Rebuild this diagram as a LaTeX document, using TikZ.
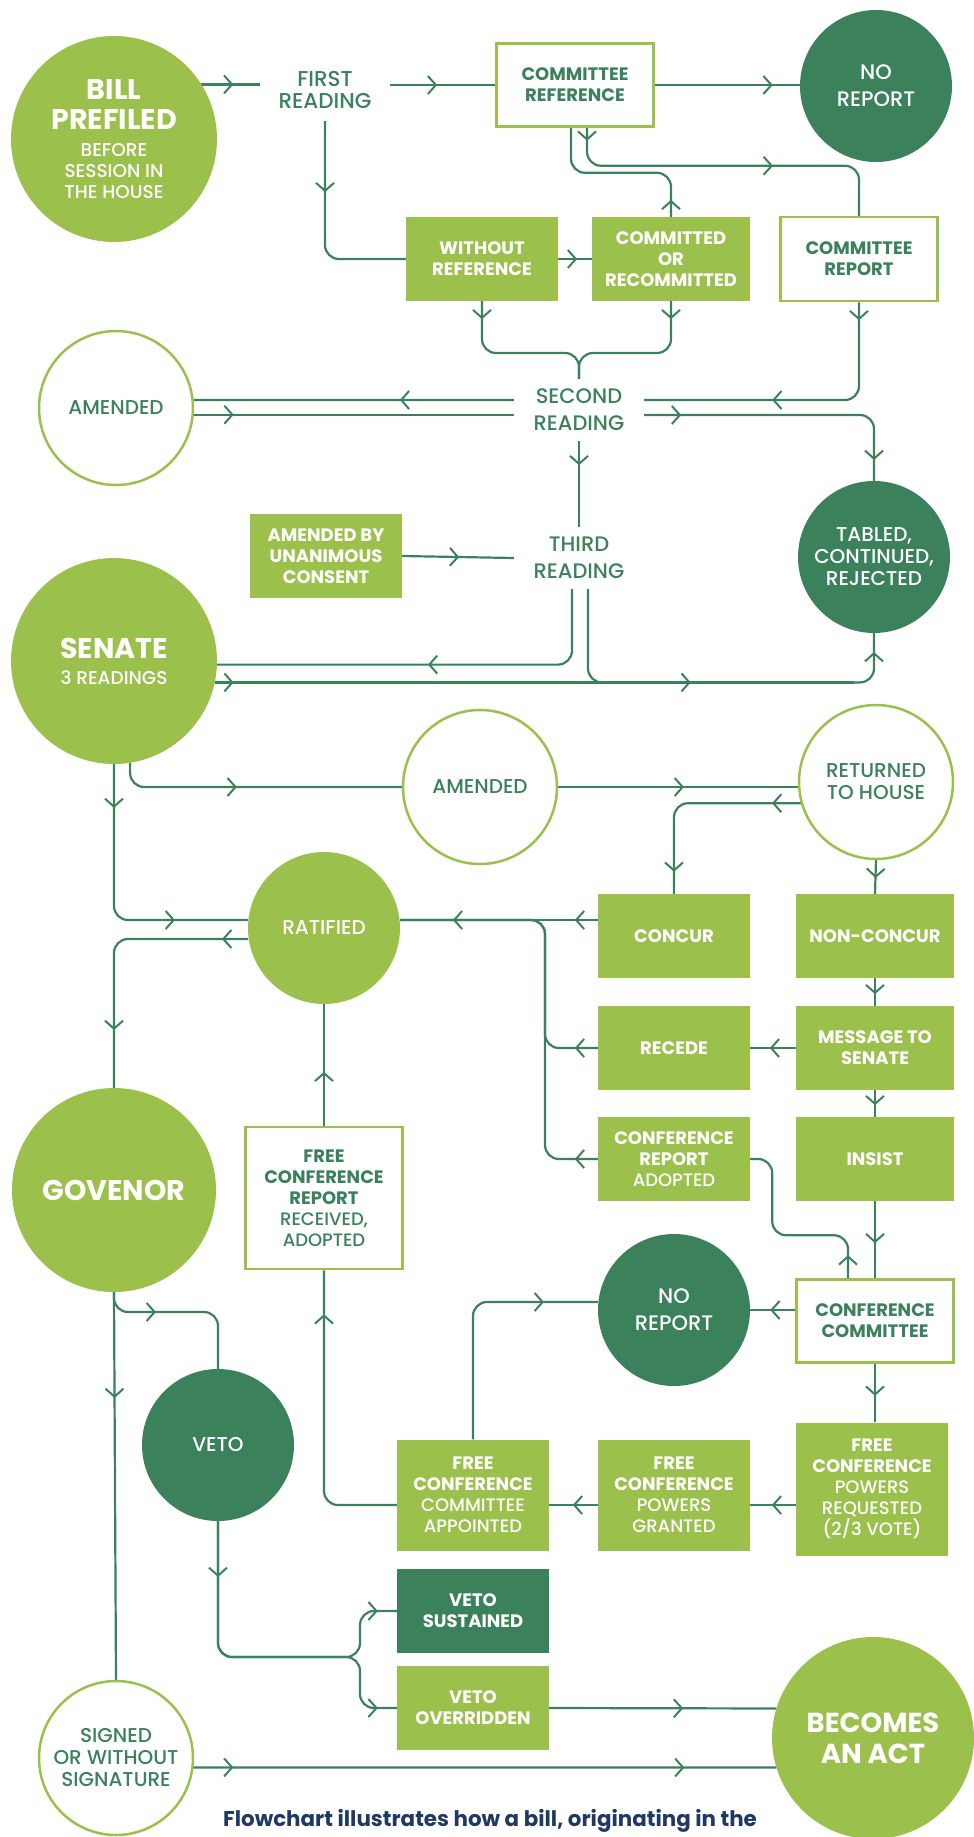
\documentclass[tikz,border=0pt]{standalone}
\usepackage{fontspec}
\setmainfont{Poppins}[UprightFont={* Medium},BoldFont={* Bold}]
\usetikzlibrary{arrows.meta,decorations.markings,backgrounds}
\definecolor{lgreen}{RGB}{155,193,76}
\definecolor{dgreen}{RGB}{59,129,91}
\definecolor{navy}{RGB}{31,56,100}
\tikzset{
  conn/.style={draw=dgreen,line width=2.2pt,rounded corners=14pt},
  midarr/.style={postaction={decorate,decoration={markings,
      mark=at position #1 with {\arrow{Straight Barb[length=8pt,width=18pt,line width=2pt]}}}}},
  bx/.style={rectangle,minimum width=152pt,minimum height=84pt,inner sep=0pt,align=center,
      font=\bfseries\fontsize{18}{21}\selectfont},
  cir/.style={circle,inner sep=0pt,outer sep=0pt,align=center,font=\fontsize{20}{22}\selectfont},
  lite/.style={fill=lgreen,text=white},
  dark/.style={fill=dgreen,text=white},
  hollow/.style={draw=lgreen,line width=2.5pt,fill=white,text=dgreen},
  reading/.style={minimum width=130pt,minimum height=62pt,inner sep=0pt,align=center,text=dgreen},
}
\begin{document}
\begin{tikzpicture}[x=1pt,y=-1pt]
\useasboundingbox (0,0) rectangle (974,1837);
% house
\node[cir,lite,minimum size=206pt,font=\fontsize{18.5}{21}\selectfont] (bill) at (114,139)
  {\bfseries\fontsize{28.5}{30}\selectfont BILL\\[9pt]\bfseries\fontsize{28.5}{30}\selectfont PREFILED\\[6pt]BEFORE\\SESSION IN\\THE HOUSE};
\node[reading,font=\fontsize{21.5}{22}\selectfont] (first) at (325,90) {FIRST\\READING};
\node[bx,hollow,minimum width=157pt,minimum height=83pt] (comref) at (575,85) {COMMITTEE\\REFERENCE};
\node[cir,dark,minimum size=152pt,font=\fontsize{21}{27}\selectfont] (nohi) at (876,86) {NO\\REPORT};
\node[bx,lite] (without) at (482,259) {WITHOUT\\REFERENCE};
\node[bx,lite,minimum width=158pt] (committed) at (671,259) {COMMITTED\\OR\\RECOMMITTED};
\node[bx,hollow,minimum width=157pt] (comrep) at (859,259) {COMMITTEE\\REPORT};
\node[cir,hollow,minimum size=154pt] (amendA) at (116,408) {AMENDED};
\node[reading,font=\fontsize{21}{27}\selectfont] (second) at (579,410) {SECOND\\READING};
\node[cir,dark,minimum size=152pt] (tabled) at (874,557) {TABLED,\\CONTINUED,\\REJECTED};
\node[bx,lite] (unan) at (326,556) {AMENDED BY\\UNANIMOUS\\CONSENT};
\node[reading,font=\fontsize{21}{27}\selectfont] (third) at (579,558) {THIRD\\READING};
% senate and return
\node[cir,lite,minimum size=206pt,font=\fontsize{18.5}{20}\selectfont] (senate) at (114,661)
  {\bfseries\fontsize{28.5}{30}\selectfont SENATE\\[6pt]3 READINGS};
\node[cir,hollow,minimum size=154pt] (amendB) at (480,787) {AMENDED};
\node[cir,hollow,minimum size=154pt] (returned) at (876,782) {RETURNED\\TO HOUSE};
\node[cir,lite,minimum size=152pt] (ratified) at (324,928) {RATIFIED};
\node[bx,lite] (concur) at (674,936) {CONCUR};
\node[bx,lite,minimum width=158pt] (noncon) at (875,936) {NON-CONCUR};
\node[bx,lite] (recede) at (674,1048) {RECEDE};
\node[bx,lite,minimum width=158pt] (message) at (875,1048) {MESSAGE TO\\SENATE};
\node[bx,lite] (cra) at (674,1159) {CONFERENCE\\REPORT\\\mdseries ADOPTED};
\node[bx,lite,minimum width=158pt] (insist) at (875,1159) {INSIST};
\node[cir,lite,minimum size=204pt,font=\bfseries\fontsize{28.5}{30}\selectfont] (governor) at (114,1190) {GOVENOR};
\node[bx,hollow,minimum width=157pt,minimum height=142pt] (fcrr) at (324,1198)
  {FREE\\CONFERENCE\\REPORT\\\mdseries RECEIVED,\\\mdseries ADOPTED};
\node[cir,dark,minimum size=152pt,font=\fontsize{21}{27}\selectfont] (nomid) at (674,1310) {NO\\REPORT};
\node[bx,hollow,minimum width=157pt,minimum height=83pt] (cc) at (875,1321) {CONFERENCE\\COMMITTEE};
% conference and veto
\node[cir,dark,minimum size=152pt] (veto) at (218,1445) {VETO};
\node[bx,lite,minimum height=133pt] (fcpr) at (872,1489)
  {FREE\\CONFERENCE\\\mdseries POWERS\\\mdseries REQUESTED\\\mdseries (2/3 VOTE)};
\node[bx,lite,minimum height=111pt] (fcpg) at (674,1495) {FREE\\CONFERENCE\\\mdseries POWERS\\\mdseries GRANTED};
\node[bx,lite,minimum height=111pt] (fcca) at (473,1495) {FREE\\CONFERENCE\\\mdseries COMMITTEE\\\mdseries APPOINTED};
\node[bx,dark] (vsust) at (473,1611) {VETO\\SUSTAINED};
\node[bx,lite] (vover) at (473,1708) {VETO\\OVERRIDDEN};
\node[cir,hollow,minimum size=154pt] (signed) at (116,1758) {SIGNED\\OR WITHOUT\\SIGNATURE};
\node[cir,lite,minimum size=202pt,font=\bfseries\fontsize{27.5}{31}\selectfont] (act) at (873,1738) {BECOMES\\AN ACT};
\node[text=navy,font=\bfseries\fontsize{21.4}{24}\selectfont] (caption) at (490,1821)
  {Flowchart illustrates how a bill, originating in the};
\coordinate (join) at (579,353);
\coordinate (merge) at (545,920);
\coordinate (split) at (360,1657);
\begin{scope}[on background layer]
\draw[conn,midarr=32pt] (bill.32) -- (first.west |- bill.32);
\draw[conn,midarr=47pt] (first.east |- comref.west) -- (comref.west);
\draw[conn,midarr=118pt] (comref.east) -- (nohi.west |- comref.east);
\draw[conn,midarr=71pt] (first.south) |- (without.west);
\draw[conn,midarr=19pt] (without.east) -- (committed.west);
\draw[conn,midarr=17pt] (committed.north) -- ++(0,-44) -| ([xshift=-4pt]comref.south);
\draw[conn,midarr=13pt,midarr=218pt] ([xshift=12pt]comref.south) -- ++(0,38) -| (comrep.north);
\draw[conn,midarr=18pt] (without.south) |- (join) -- (second.north);
\draw[conn,midarr=18pt] (committed.south) |- (join) -- (second.north);
\draw[conn,midarr=18pt,midarr=-128pt] (comrep.south) |- ([yshift=10pt]second.east);
\draw[conn,midarr=114pt] ([yshift=10pt]second.west) -- (amendA.6);
\draw[conn,midarr=41pt] (amendA.-5) -- (second.west |- amendA.-5);
\draw[conn,midarr=37pt,midarr=-21pt] ([yshift=-5pt]second.east) -| (tabled.north);
\draw[conn,midarr=24pt] (second.south) -- (third.north);
\draw[conn,midarr=57pt] (unan.east) -- (third.west);
\draw[conn,midarr=-211pt] ([xshift=-7pt]third.south) |- (senate.-2);
\draw[conn,midarr=190pt,midarr=-19pt] ([xshift=9pt]third.south) |- (senate.-12 -| tabled.south) -- (tabled.south);
\draw[conn,midarr=19pt] (senate.-12) -- ([xshift=-20pt]senate.-12 -| tabled.south);
% senate on
\draw[conn,midarr=125pt] (senate.-81) |- (amendB.west);
\draw[conn,midarr=44pt,midarr=-73pt] (senate.south) |- ([yshift=8pt]ratified.west);
\draw[conn,midarr=127pt] (amendB.east) -- (returned.west |- amendB.east);
\draw[conn,midarr=30pt,midarr=-22pt] (returned.-164) -| (concur.north);
\draw[conn,midarr=19pt] (returned.south) -- (noncon.north);
\draw[conn,midarr=23pt,midarr=145pt] ([yshift=16pt]concur.west) -- ([yshift=8pt]ratified.east);
\draw[conn,midarr=23pt] (recede.west) -| (merge) -- ([yshift=8pt]ratified.east);
\draw[conn,midarr=23pt] (cra.west) -| (merge) -- ([yshift=8pt]ratified.east);
\draw[conn,midarr=16pt] (noncon.south) -- (message.north);
\draw[conn,midarr=26pt] (message.west) -- (recede.east);
\draw[conn,midarr=15pt] (message.south) -- (insist.north);
\draw[conn,midarr=42pt] (insist.south) -- (cc.north);
\draw[conn,midarr=23pt] ([xshift=-27pt]cc.north) -- ++(0,-43) -| ([xshift=22pt]cra.east) -- (cra.east);
\draw[conn,midarr=25pt] (cc.west |- nomid.east) -- (nomid.east);
\draw[conn,midarr=32pt] (cc.south) -- (cc.south |- fcpr.north);
\draw[conn,midarr=24pt] ([yshift=-10pt]fcpr.west |- fcpg.east) -- ([yshift=-10pt]fcpg.east);
\draw[conn,midarr=25pt] ([yshift=-10pt]fcpg.west) -- ([yshift=-10pt]fcca.east);
\draw[conn,midarr=-54pt] (fcca.north) |- ([yshift=8pt]nomid.west);
\draw[conn,midarr=-44pt] ([yshift=-10pt]fcca.west) -| (fcrr.south);
\draw[conn,midarr=54pt] (fcrr.north) -- (ratified.south);
% governor and veto
\draw[conn,midarr=26pt,midarr=-58pt] ([yshift=-11pt]ratified.west) -| (governor.north);
\draw[conn,midarr=106pt] (governor.south) -- (signed.north);
\draw[conn,midarr=56pt] (governor.south) -- ++(0,20) -| (veto.north);
\draw[conn,midarr=56pt,midarr=-19pt] (veto.south) |- (split) |- (vsust.west);
\draw[conn,midarr=-19pt] (veto.south) |- (split) |- (vover.west);
\draw[conn,midarr=134pt] (vover.east) -- (act.163);
\draw[conn,midarr=41pt,midarr=-92pt] (signed.-7) -- (act.197);
\end{scope}
\end{tikzpicture}
\end{document}
